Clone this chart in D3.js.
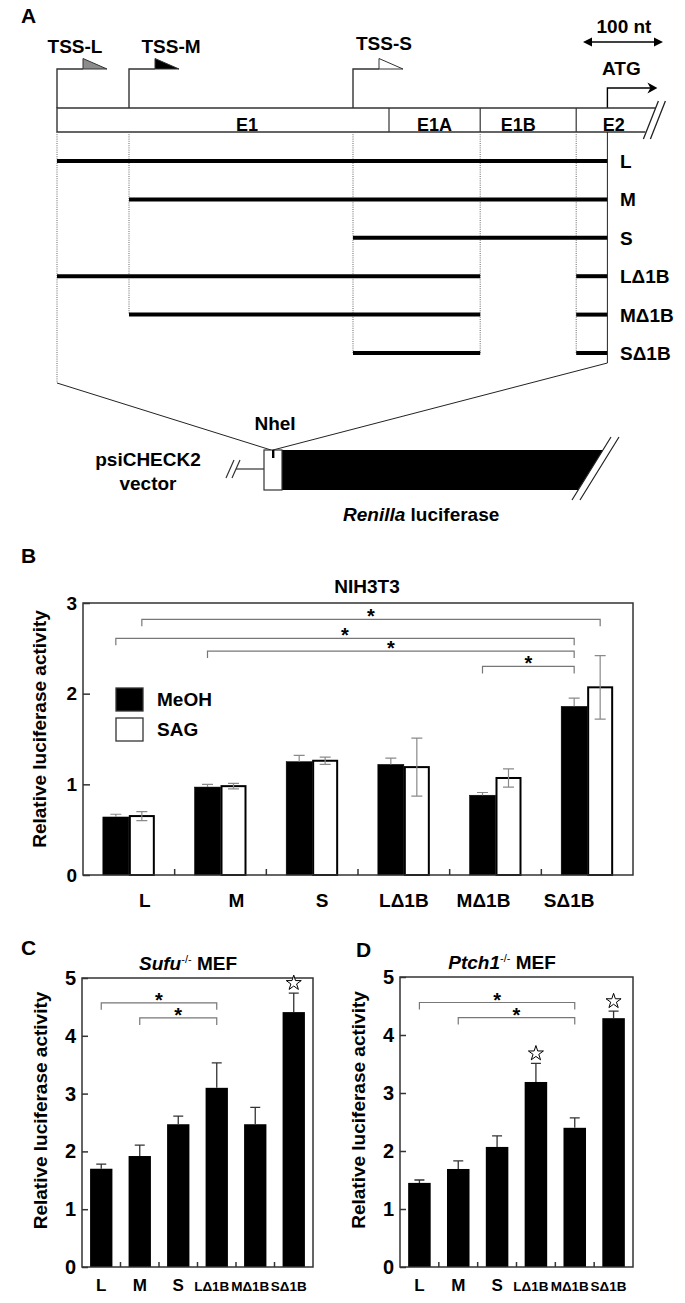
<!DOCTYPE html>
<html>
<head>
<meta charset="utf-8">
<script src="https://cdn.jsdelivr.net/npm/d3@7"></script>
<style>
body { margin: 0; background: #fff; }
svg text { font-family: 'Liberation Sans', Arial, Helvetica, sans-serif; font-weight: bold; fill: #000; }
</style>
</head>
<body>
<svg id="fig"></svg>
<script>
let svgWidth = 685
let svgHeight = 1303

// ---- panel A: promoter structure, positions in nt downstream of TSS-L
const tssNames = ['TSS-L', 'TSS-M', 'TSS-S']
const tssPos = [0, 90, 370]
const exonNames = ['E1', 'E1A', 'E1B', 'E2']
const exonStart = [0, 415, 529, 649]
const exonEnd = [415, 529, 649, 748]
const atgPos = 688
const constructs = ['L', 'M', 'S', 'LΔ1B', 'MΔ1B', 'SΔ1B']
const constructSegs = [
    [[0, 688]],
    [[90, 688]],
    [[370, 688]],
    [[0, 529], [649, 688]],
    [[90, 529], [649, 688]],
    [[370, 529], [649, 688]]
]

// ---- panel B: NIH3T3
const treatments = ['MeOH', 'SAG']
const nihMeoh = [0.64, 0.97, 1.25, 1.22, 0.88, 1.86]
const nihMeohErr = [0.03, 0.03, 0.07, 0.07, 0.03, 0.09]
const nihSag = [0.65, 0.98, 1.26, 1.19, 1.07, 2.07]
const nihSagErr = [0.05, 0.03, 0.04, 0.32, 0.10, 0.35]
const nihTicks = [0, 1, 2, 3]
// [from group, from treatment, to group, to treatment, bracket level]
const nihSig = [
    ['L', 'SAG', 'SΔ1B', 'SAG', 2.82],
    ['L', 'MeOH', 'SΔ1B', 'MeOH', 2.61],
    ['M', 'MeOH', 'SΔ1B', 'MeOH', 2.47],
    ['MΔ1B', 'MeOH', 'SΔ1B', 'MeOH', 2.30]
]

// ---- panel C: Sufu-/- MEF
const sufuVals = [1.70, 1.92, 2.47, 3.10, 2.47, 4.41]
const sufuErr = [0.08, 0.19, 0.14, 0.43, 0.29, 0.33]
const sufuSig = [['L', 'LΔ1B', 4.57], ['M', 'LΔ1B', 4.31]]
const sufuStars = ['SΔ1B']

// ---- panel D: Ptch1-/- MEF
const ptchVals = [1.45, 1.69, 2.07, 3.19, 2.40, 4.29]
const ptchErr = [0.05, 0.14, 0.19, 0.32, 0.17, 0.12]
const ptchSig = [['L', 'MΔ1B', 4.56], ['M', 'MΔ1B', 4.30]]
const ptchStars = ['LΔ1B', 'SΔ1B']
const mefTicks = [0, 1, 2, 3, 4, 5]

let svg = d3.select('#fig')
    .attr('width', svgWidth)
    .attr('height', svgHeight)

svg.append('rect').attr('width', svgWidth).attr('height', svgHeight).attr('fill', '#fff')

function panelLetter(t, x, y){
    svg.append('text').attr('x', x).attr('y', y).attr('font-size', 21).text(t)
}

// ================= A =================
function drawPanelA(){
    const g = svg.append('g')
    const ntX = d3.scaleLinear().domain([0, 100]).range([57, 137])
    const rowY = d3.scalePoint().domain(constructs).range([161, 353])
    const barTop = 108, barBot = 132
    const line = '#333'

    panelLetter('A', 21, 23)

    // scale bar
    const sb0 = 583, sb1 = sb0 + ntX(100) - ntX(0)
    g.append('line').attr('x1', sb0 + 6).attr('x2', sb1 - 6).attr('y1', 42).attr('y2', 42)
        .attr('stroke', '#000').attr('stroke-width', 1.6)
    g.append('path').attr('d', `M${sb0},42L${sb0 + 9},37.5L${sb0 + 9},46.5Z M${sb1},42L${sb1 - 9},37.5L${sb1 - 9},46.5Z`)
        .attr('fill', '#000')
    g.append('text').attr('x', (sb0 + sb1) / 2 + 1).attr('y', 33).attr('text-anchor', 'middle')
        .attr('font-size', 19).text('100 nt')

    // TSS arrows
    const tssFill = ['#8c8c8c', '#000', '#fff']
    const tssLabelDx = [18, 42, 31]
    const tssLabelY = [53, 53, 50]
    const tss = g.selectAll('.tss').data(tssNames).enter().append('g')
        .attr('class', 'tss')
        .attr('transform', (d, i) => `translate(${ntX(tssPos[i])},0)`)
    tss.append('path').attr('d', `M0,${barTop}V69H26`)
        .attr('fill', 'none').attr('stroke', line).attr('stroke-width', 1.4)
    tss.append('path').attr('d', 'M26,58.5L26,69L50,69Z')
        .attr('fill', (d, i) => tssFill[i]).attr('stroke', line).attr('stroke-width', 1)
    tss.append('text').attr('x', (d, i) => tssLabelDx[i]).attr('y', (d, i) => tssLabelY[i])
        .attr('text-anchor', 'middle').attr('font-size', 19).text(d => d)

    // ATG arrow
    const ax = ntX(atgPos)
    g.append('path').attr('d', `M${ax},${barTop}V88H${ax + 44}`)
        .attr('fill', 'none').attr('stroke', '#000').attr('stroke-width', 1.4)
    g.append('path').attr('d', `M${ax + 50},88L${ax + 40},82.5L${ax + 43},88L${ax + 40},93.5Z`).attr('fill', '#000')
    g.append('text').attr('x', ax + 14).attr('y', 75).attr('text-anchor', 'middle').attr('font-size', 19).text('ATG')

    // exon bar with break
    const xL = ntX(0), xTopEnd = ntX(exonEnd[3]), xBotEnd = xTopEnd - 10
    g.append('path').attr('d', `M${xTopEnd},${barTop}H${xL}V${barBot}H${xBotEnd}`)
        .attr('fill', 'none').attr('stroke', line).attr('stroke-width', 1.4)
    g.selectAll('.div').data(exonStart.slice(1)).enter().append('line')
        .attr('x1', d => ntX(d)).attr('x2', d => ntX(d)).attr('y1', barTop).attr('y2', barBot)
        .attr('stroke', line).attr('stroke-width', 1.2)
    g.append('path').attr('d', `M${xTopEnd + 3},101L${xBotEnd - 2},139 M${xTopEnd + 10},101L${xBotEnd + 5},139`)
        .attr('stroke', '#222').attr('stroke-width', 1.3)
    const exonLabelDx = [24, 0, -10, -2]
    g.selectAll('.exl').data(exonNames).enter().append('text')
        .attr('x', (d, i) => (ntX(exonStart[i]) + ntX(exonEnd[i])) / 2 + exonLabelDx[i])
        .attr('y', 131).attr('text-anchor', 'middle').attr('font-size', 18).text(d => d)

    // dotted guides
    const funnelL = 383, funnelR = 363, site = [273, 450]
    const guides = [0, 90, 370, 529, 649].map(p => {
        let last = -1
        constructSegs.forEach((segs, i) => segs.forEach(s => { if (s[0] == p || s[1] == p) last = i }))
        return { p: p, y2: p == 0 ? funnelL : rowY(constructs[last]) }
    })
    g.selectAll('.guide').data(guides).enter().append('line')
        .attr('x1', d => ntX(d.p)).attr('x2', d => ntX(d.p))
        .attr('y1', barBot).attr('y2', d => d.y2)
        .attr('stroke', '#666').attr('stroke-width', 1).attr('stroke-dasharray', '1,1.2')

    // construct lines
    constructs.forEach((c, i) => {
        g.selectAll('.seg' + i).data(constructSegs[i]).enter().append('line')
            .attr('x1', d => ntX(d[0])).attr('x2', d => ntX(d[1]))
            .attr('y1', rowY(c)).attr('y2', rowY(c))
            .attr('stroke', '#000').attr('stroke-width', 4)
    })
    g.selectAll('.clab').data(constructs).enter().append('text')
        .attr('x', 620).attr('y', d => rowY(d) + 7).attr('font-size', 19).text(d => d)

    // right solid line and funnel to NheI site
    g.append('path').attr('d', `M${ax},${barBot}V${funnelR}L${site[0]},${site[1]} M${xL},${funnelL}L${site[0] - 2},${site[1]}`)
        .attr('fill', 'none').attr('stroke', '#222').attr('stroke-width', 1)

    // vector
    g.append('path').attr('d', 'M236,469H264').attr('stroke', line).attr('stroke-width', 1.2)
    g.append('path').attr('d', 'M226,478L234,460 M232,478L240,460').attr('stroke', line).attr('stroke-width', 1.2)
    g.append('path').attr('d', 'M282,450H603L578,490H282Z').attr('fill', '#000')
    g.append('rect').attr('x', 264).attr('y', 450).attr('width', 18).attr('height', 40)
        .attr('fill', '#fff').attr('stroke', line).attr('stroke-width', 1.2)
    g.append('rect').attr('x', 272).attr('y', 450).attr('width', 2.4).attr('height', 8).attr('fill', '#000')
    g.append('path').attr('d', 'M611,437L572,500 M619,437L580,500').attr('stroke', '#222').attr('stroke-width', 1.2)
    g.append('text').attr('x', 275).attr('y', 430).attr('text-anchor', 'middle').attr('font-size', 19).text('NheI')
    g.append('text').attr('x', 148).attr('y', 466).attr('text-anchor', 'middle').attr('font-size', 19).text('psiCHECK2')
    g.append('text').attr('x', 148).attr('y', 490).attr('text-anchor', 'middle').attr('font-size', 19).text('vector')
    const ren = g.append('text').attr('x', 343).attr('y', 521).attr('font-size', 19)
    ren.append('tspan').attr('font-style', 'italic').text('Renilla')
    ren.append('tspan').text(' luciferase')
}

// ================= B =================
function drawPanelB(){
    const g = svg.append('g')
    const left = 83, right = 633, top = 603, bottom = 875
    const bx = d3.scaleBand().domain(constructs).range([left, right])
    const bxIn = d3.scaleBand().domain(treatments).range([0, bx.bandwidth()]).paddingOuter(0.763)
    const by = d3.scaleLinear().domain([0, 3]).range([bottom, top])
    const center = (grp, t) => bx(grp) + bxIn(t) + bxIn.bandwidth() / 2

    panelLetter('B', 21, 563)
    g.append('text').attr('x', 367).attr('y', 593).attr('text-anchor', 'middle').attr('font-size', 19).text('NIH3T3')

    const rows = []
    constructs.forEach((c, i) => {
        rows.push({ g: c, t: 'MeOH', v: nihMeoh[i], e: nihMeohErr[i] })
        rows.push({ g: c, t: 'SAG', v: nihSag[i], e: nihSagErr[i] })
    })

    g.selectAll('.bar').data(rows).enter().append('rect')
        .attr('x', d => bx(d.g) + bxIn(d.t) + (d.t == 'SAG' ? 1 : 0))
        .attr('y', d => by(d.v))
        .attr('width', d => bxIn.bandwidth() - (d.t == 'SAG' ? 2 : 0))
        .attr('height', d => by(0) - by(d.v))
        .attr('fill', d => d.t == 'MeOH' ? '#000' : '#fff')
        .attr('stroke', '#000')
        .attr('stroke-width', d => d.t == 'SAG' ? 2 : 0.5)

    // error bars (lower half hidden on black bars)
    const ew = 5.5
    g.selectAll('.err').data(rows).enter().append('path')
        .attr('d', d => {
            const cx = center(d.g, d.t), hi = by(d.v + d.e), lo = d.t == 'MeOH' ? by(d.v) : by(d.v - d.e)
            let p = `M${cx},${lo}V${hi}M${cx - ew},${hi}H${cx + ew}`
            if (d.t == 'SAG') p += `M${cx - ew},${lo}H${cx + ew}`
            return p
        })
        .attr('fill', 'none').attr('stroke', '#8a8a8a').attr('stroke-width', 1.2)

    // frame
    g.append('rect').attr('x', left).attr('y', top).attr('width', right - left).attr('height', bottom - top)
        .attr('fill', 'none').attr('stroke', '#333').attr('stroke-width', 1.5)

    const yAxis = g.append('g').attr('transform', `translate(${left},0)`)
        .call(d3.axisLeft(by).tickValues(nihTicks).tickSize(-7).tickPadding(6).tickFormat(d3.format('d')))
    yAxis.select('.domain').remove()
    yAxis.selectAll('line').attr('stroke', '#333').attr('stroke-width', 1.5)
    yAxis.selectAll('text').attr('font-size', 19)

    g.selectAll('.xt').data(constructs.slice(1)).enter().append('line')
        .attr('x1', d => bx(d)).attr('x2', d => bx(d)).attr('y1', bottom).attr('y2', bottom - 6)
        .attr('stroke', '#333').attr('stroke-width', 1.5)

    const labelDx = [16, 16, 10, 0, -12, -18]
    g.selectAll('.xl').data(constructs).enter().append('text')
        .attr('x', (d, i) => bx(d) + bx.bandwidth() / 2 + labelDx[i]).attr('y', 907)
        .attr('text-anchor', 'middle').attr('font-size', 19).text(d => d)

    g.append('text').attr('transform', `translate(46,${(top + bottom) / 2 - 10}) rotate(-90)`)
        .attr('text-anchor', 'middle').attr('font-size', 19).text('Relative luciferase activity')

    // significance brackets
    g.selectAll('.sig').data(nihSig).enter().append('path')
        .attr('d', d => {
            const x1 = center(d[0], d[1]), x2 = center(d[2], d[3]), y = by(d[4])
            return `M${x1},${y + 7}V${y}H${x2}V${y + 7}`
        })
        .attr('fill', 'none').attr('stroke', '#777').attr('stroke-width', 1.2)
    g.selectAll('.sigt').data(nihSig).enter().append('text')
        .attr('x', d => (center(d[0], d[1]) + center(d[2], d[3])) / 2)
        .attr('y', d => by(d[4]) + 4)
        .attr('text-anchor', 'middle').attr('font-size', 20).text('*')

    // legend
    const lg = g.selectAll('.lg').data(treatments).enter().append('g')
        .attr('transform', (d, i) => `translate(116,${688 + i * 30})`)
    lg.append('rect').attr('width', 27).attr('height', 23)
        .attr('fill', d => d == 'MeOH' ? '#000' : '#fff').attr('stroke', '#333').attr('stroke-width', 1.3)
    lg.append('text').attr('x', 41).attr('y', 18).attr('font-size', 19).text(d => d)
}

// ================= C / D =================
function drawMef(opt){
    const g = svg.append('g')
    const bx = d3.scaleBand().domain(constructs).range([opt.left, opt.right])
    const by = d3.scaleLinear().domain([0, 5]).range([opt.bottom, opt.top])
    const bw = bx.bandwidth() * 0.58
    const cx = d => bx(d) + bx.bandwidth() / 2

    panelLetter(opt.letter, opt.letterX, opt.letterY)
    const title = g.append('text').attr('x', opt.titleX).attr('y', opt.top - 8)
        .attr('text-anchor', 'middle').attr('font-size', 19)
    title.append('tspan').attr('font-style', 'italic').text(opt.gene)
    title.append('tspan').attr('font-size', 11).attr('font-weight', 'normal').attr('dy', -7).text('-/-')
    title.append('tspan').attr('dy', 7).text(' MEF')

    const rows = constructs.map((c, i) => ({ g: c, v: opt.vals[i], e: opt.errs[i] }))
    g.selectAll('.bar').data(rows).enter().append('rect')
        .attr('x', d => cx(d.g) - bw / 2).attr('y', d => by(d.v))
        .attr('width', bw).attr('height', d => by(0) - by(d.v)).attr('fill', '#000')
    g.selectAll('.err').data(rows).enter().append('path')
        .attr('d', d => `M${cx(d.g)},${by(d.v)}V${by(d.v + d.e)}M${cx(d.g) - 5},${by(d.v + d.e)}H${cx(d.g) + 5}`)
        .attr('fill', 'none').attr('stroke', '#333').attr('stroke-width', 1.3)

    g.append('rect').attr('x', opt.left).attr('y', opt.top).attr('width', opt.right - opt.left)
        .attr('height', opt.bottom - opt.top).attr('fill', 'none').attr('stroke', '#333').attr('stroke-width', 1.5)

    const yAxis = g.append('g').attr('transform', `translate(${opt.left},0)`)
        .call(d3.axisLeft(by).tickValues(mefTicks).tickSize(-6).tickPadding(6).tickFormat(d3.format('d')))
    yAxis.select('.domain').remove()
    yAxis.selectAll('line').attr('stroke', '#333').attr('stroke-width', 1.5)
    yAxis.selectAll('text').attr('font-size', 20)

    g.selectAll('.xt').data(constructs.slice(1)).enter().append('line')
        .attr('x1', d => bx(d)).attr('x2', d => bx(d)).attr('y1', opt.bottom).attr('y2', opt.bottom - 5)
        .attr('stroke', '#333').attr('stroke-width', 1.5)
    g.selectAll('.xl').data(constructs).enter().append('text')
        .attr('x', d => cx(d) - (d.length > 1 ? 5 : 0)).attr('y', opt.bottom + 24)
        .attr('text-anchor', 'middle').attr('font-size', d => d.length > 1 ? 13.5 : 17).text(d => d)

    g.append('text').attr('transform', `translate(${opt.left - 35},${(opt.top + opt.bottom) / 2 - 12}) rotate(-90)`)
        .attr('text-anchor', 'middle').attr('font-size', 19).text('Relative luciferase activity')

    g.selectAll('.sig').data(opt.sig).enter().append('path')
        .attr('d', d => `M${cx(d[0])},${by(d[2]) + 7}V${by(d[2])}H${cx(d[1])}V${by(d[2]) + 7}`)
        .attr('fill', 'none').attr('stroke', '#777').attr('stroke-width', 1.2)
    g.selectAll('.sigt').data(opt.sig).enter().append('text')
        .attr('x', d => (cx(d[0]) + cx(d[1])) / 2).attr('y', d => by(d[2]) + 4)
        .attr('text-anchor', 'middle').attr('font-size', 20).text('*')

    // open stars
    const star = d3.symbol().type(d3.symbolStar).size(70)
    g.selectAll('.star').data(opt.stars).enter().append('path')
        .attr('d', star)
        .attr('transform', d => {
            const i = constructs.indexOf(d)
            return `translate(${cx(d)},${by(opt.vals[i] + opt.errs[i]) - 10})`
        })
        .attr('fill', '#fff').attr('stroke', '#000').attr('stroke-width', 1)
}

drawPanelA()
drawPanelB()
drawMef({ letter: 'C', letterX: 21, letterY: 955, gene: 'Sufu', titleX: 188,
    left: 82, right: 313, top: 978, bottom: 1267,
    vals: sufuVals, errs: sufuErr, sig: sufuSig, stars: sufuStars })
drawMef({ letter: 'D', letterX: 356, letterY: 957, gene: 'Ptch1', titleX: 502,
    left: 400, right: 633, top: 977, bottom: 1267,
    vals: ptchVals, errs: ptchErr, sig: ptchSig, stars: ptchStars })
</script>
</body>
</html>
